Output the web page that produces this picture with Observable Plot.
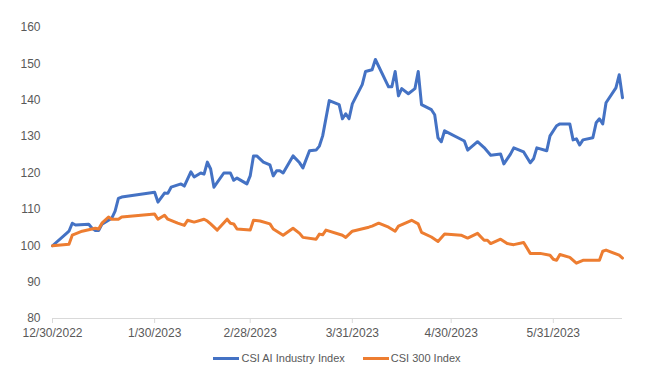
<!DOCTYPE html>
<html>
<head>
<meta charset="utf-8">
<script src="https://cdn.jsdelivr.net/npm/d3@7"></script>
<script src="https://cdn.jsdelivr.net/npm/@observablehq/plot@0.6"></script>
<style>
  body { margin: 0; background: #fff; font-family: "Liberation Sans", Arial, sans-serif; }
  #legend { display: flex; justify-content: center; align-items: center; gap: 18px; margin-top: 8px; height: 16px; font-size: 11px; color: #595959; padding-left: 6px; }
  .item { display: flex; align-items: center; gap: 2px; }
  .sw { width: 26px; height: 3px; }
</style>
</head>
<body>
<div id="chart"></div>
<div id="legend"></div>
<script>
const seriesNames = ["CSI AI Industry Index", "CSI 300 Index"];
const seriesColors = ["#4472C4", "#ED7D31"];
const yTicks = [80, 90, 100, 110, 120, 130, 140, 150, 160];
const xTicks = ["2022-12-30", "2023-01-30", "2023-02-28", "2023-03-31", "2023-04-30", "2023-05-31"];

const aiDates = ["2022-12-30","2023-01-03","2023-01-04","2023-01-05","2023-01-06","2023-01-10","2023-01-11","2023-01-12","2023-01-13","2023-01-14","2023-01-17","2023-01-18","2023-01-19","2023-01-20","2023-01-30","2023-01-31","2023-02-02","2023-02-03","2023-02-04","2023-02-07","2023-02-08","2023-02-10","2023-02-11","2023-02-13","2023-02-14","2023-02-15","2023-02-16","2023-02-17","2023-02-20","2023-02-22","2023-02-23","2023-02-24","2023-02-27","2023-02-28","2023-03-01","2023-03-02","2023-03-04","2023-03-06","2023-03-07","2023-03-08","2023-03-09","2023-03-10","2023-03-13","2023-03-15","2023-03-16","2023-03-18","2023-03-20","2023-03-21","2023-03-22","2023-03-24","2023-03-27","2023-03-28","2023-03-29","2023-03-30","2023-03-31","2023-04-03","2023-04-04","2023-04-06","2023-04-07","2023-04-11","2023-04-12","2023-04-13","2023-04-14","2023-04-15","2023-04-17","2023-04-19","2023-04-20","2023-04-21","2023-04-24","2023-04-25","2023-04-26","2023-04-27","2023-04-28","2023-05-04","2023-05-05","2023-05-08","2023-05-10","2023-05-12","2023-05-15","2023-05-16","2023-05-18","2023-05-19","2023-05-22","2023-05-24","2023-05-25","2023-05-26","2023-05-29","2023-05-30","2023-06-01","2023-06-02","2023-06-05","2023-06-06","2023-06-07","2023-06-08","2023-06-09","2023-06-12","2023-06-13","2023-06-14","2023-06-15","2023-06-16","2023-06-19","2023-06-20","2023-06-21"];
const aiValues = [100,103.2,104,106.2,105.7,105.9,104.8,104.2,104.2,105.9,107.6,109.5,113,113.4,114.7,112,114.5,114.4,116.1,117,116.4,120.3,118.9,120,119.7,123,121.1,116.1,120,120,118,118.6,117,119.2,124.7,124.7,123,122.2,119.2,120.6,120.6,120,124.7,122.8,121.4,126.1,126.3,127.4,130.2,139.9,138.8,134.9,136.3,134.9,139,144.3,147.9,148.4,151.2,143.7,143.7,147.9,141.2,143.2,141.8,143.2,147.9,138.8,137.4,136,129.7,128.6,131.6,128.8,126.3,128.6,127,124.9,125.2,122.5,125.2,126.9,125.8,122.8,123.9,126.9,126.1,130.2,133,133.5,133.5,129.1,129.4,127.7,129.1,129.7,133.8,134.9,133.5,139.3,143.4,147,140.7];

const csiDates = ["2022-12-30","2023-01-04","2023-01-05","2023-01-08","2023-01-12","2023-01-13","2023-01-14","2023-01-16","2023-01-17","2023-01-19","2023-01-20","2023-01-30","2023-01-31","2023-02-02","2023-02-03","2023-02-06","2023-02-08","2023-02-09","2023-02-11","2023-02-14","2023-02-15","2023-02-16","2023-02-18","2023-02-21","2023-02-22","2023-02-23","2023-02-24","2023-02-28","2023-03-01","2023-03-03","2023-03-06","2023-03-07","2023-03-10","2023-03-13","2023-03-15","2023-03-16","2023-03-20","2023-03-21","2023-03-22","2023-03-23","2023-03-28","2023-03-29","2023-03-31","2023-04-05","2023-04-06","2023-04-08","2023-04-11","2023-04-13","2023-04-14","2023-04-18","2023-04-20","2023-04-21","2023-04-24","2023-04-26","2023-04-28","2023-05-03","2023-05-05","2023-05-08","2023-05-10","2023-05-11","2023-05-12","2023-05-15","2023-05-17","2023-05-19","2023-05-22","2023-05-24","2023-05-27","2023-05-30","2023-05-31","2023-06-01","2023-06-02","2023-06-05","2023-06-07","2023-06-09","2023-06-14","2023-06-15","2023-06-16","2023-06-20","2023-06-21"];
const csiValues = [100,100.4,102.9,104,104.8,104.6,106.2,107.9,107.3,107.3,107.9,108.7,107.3,108.4,107.3,106.2,105.6,107,106.5,107.3,106.8,106,104.3,107.3,106.2,106,104.6,104.3,107,106.8,106,104.6,102.9,104.8,103.4,102.3,101.8,103.2,103,104.3,102.9,102.3,104,105.1,105.4,106.2,105.1,104,105.4,107,106,103.7,102.4,101.2,103.2,102.9,102.1,103.4,101.5,101.5,100.6,101.8,100.6,100.3,100.9,97.9,97.9,97.4,96.3,96,97.6,96.8,95.2,96,96,98.5,98.8,97.4,96.6];

const rows = [
  ...aiDates.map((d, i) => ({date: new Date(d), value: aiValues[i], series: seriesNames[0]})),
  ...csiDates.map((d, i) => ({date: new Date(d), value: csiValues[i], series: seriesNames[1]}))
];

const chart = Plot.plot({
  width: 668,
  height: 342,
  marginTop: 27,
  marginBottom: 24,
  marginLeft: 52,
  marginRight: 46,
  style: {fontFamily: "'Liberation Sans', Arial, sans-serif", fontSize: "12px", color: "#595959", background: "white"},
  x: {type: "utc", domain: [new Date(aiDates[0]), new Date(aiDates[aiDates.length - 1])]},
  y: {domain: [80, 160]},
  color: {domain: seriesNames, range: seriesColors},
  marks: [
    Plot.axisY({ticks: yTicks, tickSize: 0, tickPadding: 12, label: null}),
    Plot.axisX({ticks: xTicks.map(d => new Date(d)), tickFormat: d3.utcFormat("%-m/%-d/%Y"), tickSize: 5, tickPadding: 5, stroke: "#d9d9d9", label: null}),
    Plot.ruleY([80], {stroke: "#d9d9d9"}),
    Plot.line(rows, {x: "date", y: "value", z: "series", stroke: "series", strokeWidth: 3, strokeLinejoin: "round", strokeLinecap: "round"})
  ]
});
document.getElementById("chart").appendChild(chart);

const legend = document.getElementById("legend");
seriesNames.forEach((name, i) => {
  const item = document.createElement("div");
  item.className = "item";
  const sw = document.createElement("div");
  sw.className = "sw";
  sw.style.background = seriesColors[i];
  const label = document.createElement("span");
  label.textContent = name;
  item.appendChild(sw);
  item.appendChild(label);
  legend.appendChild(item);
});
</script>
</body>
</html>
